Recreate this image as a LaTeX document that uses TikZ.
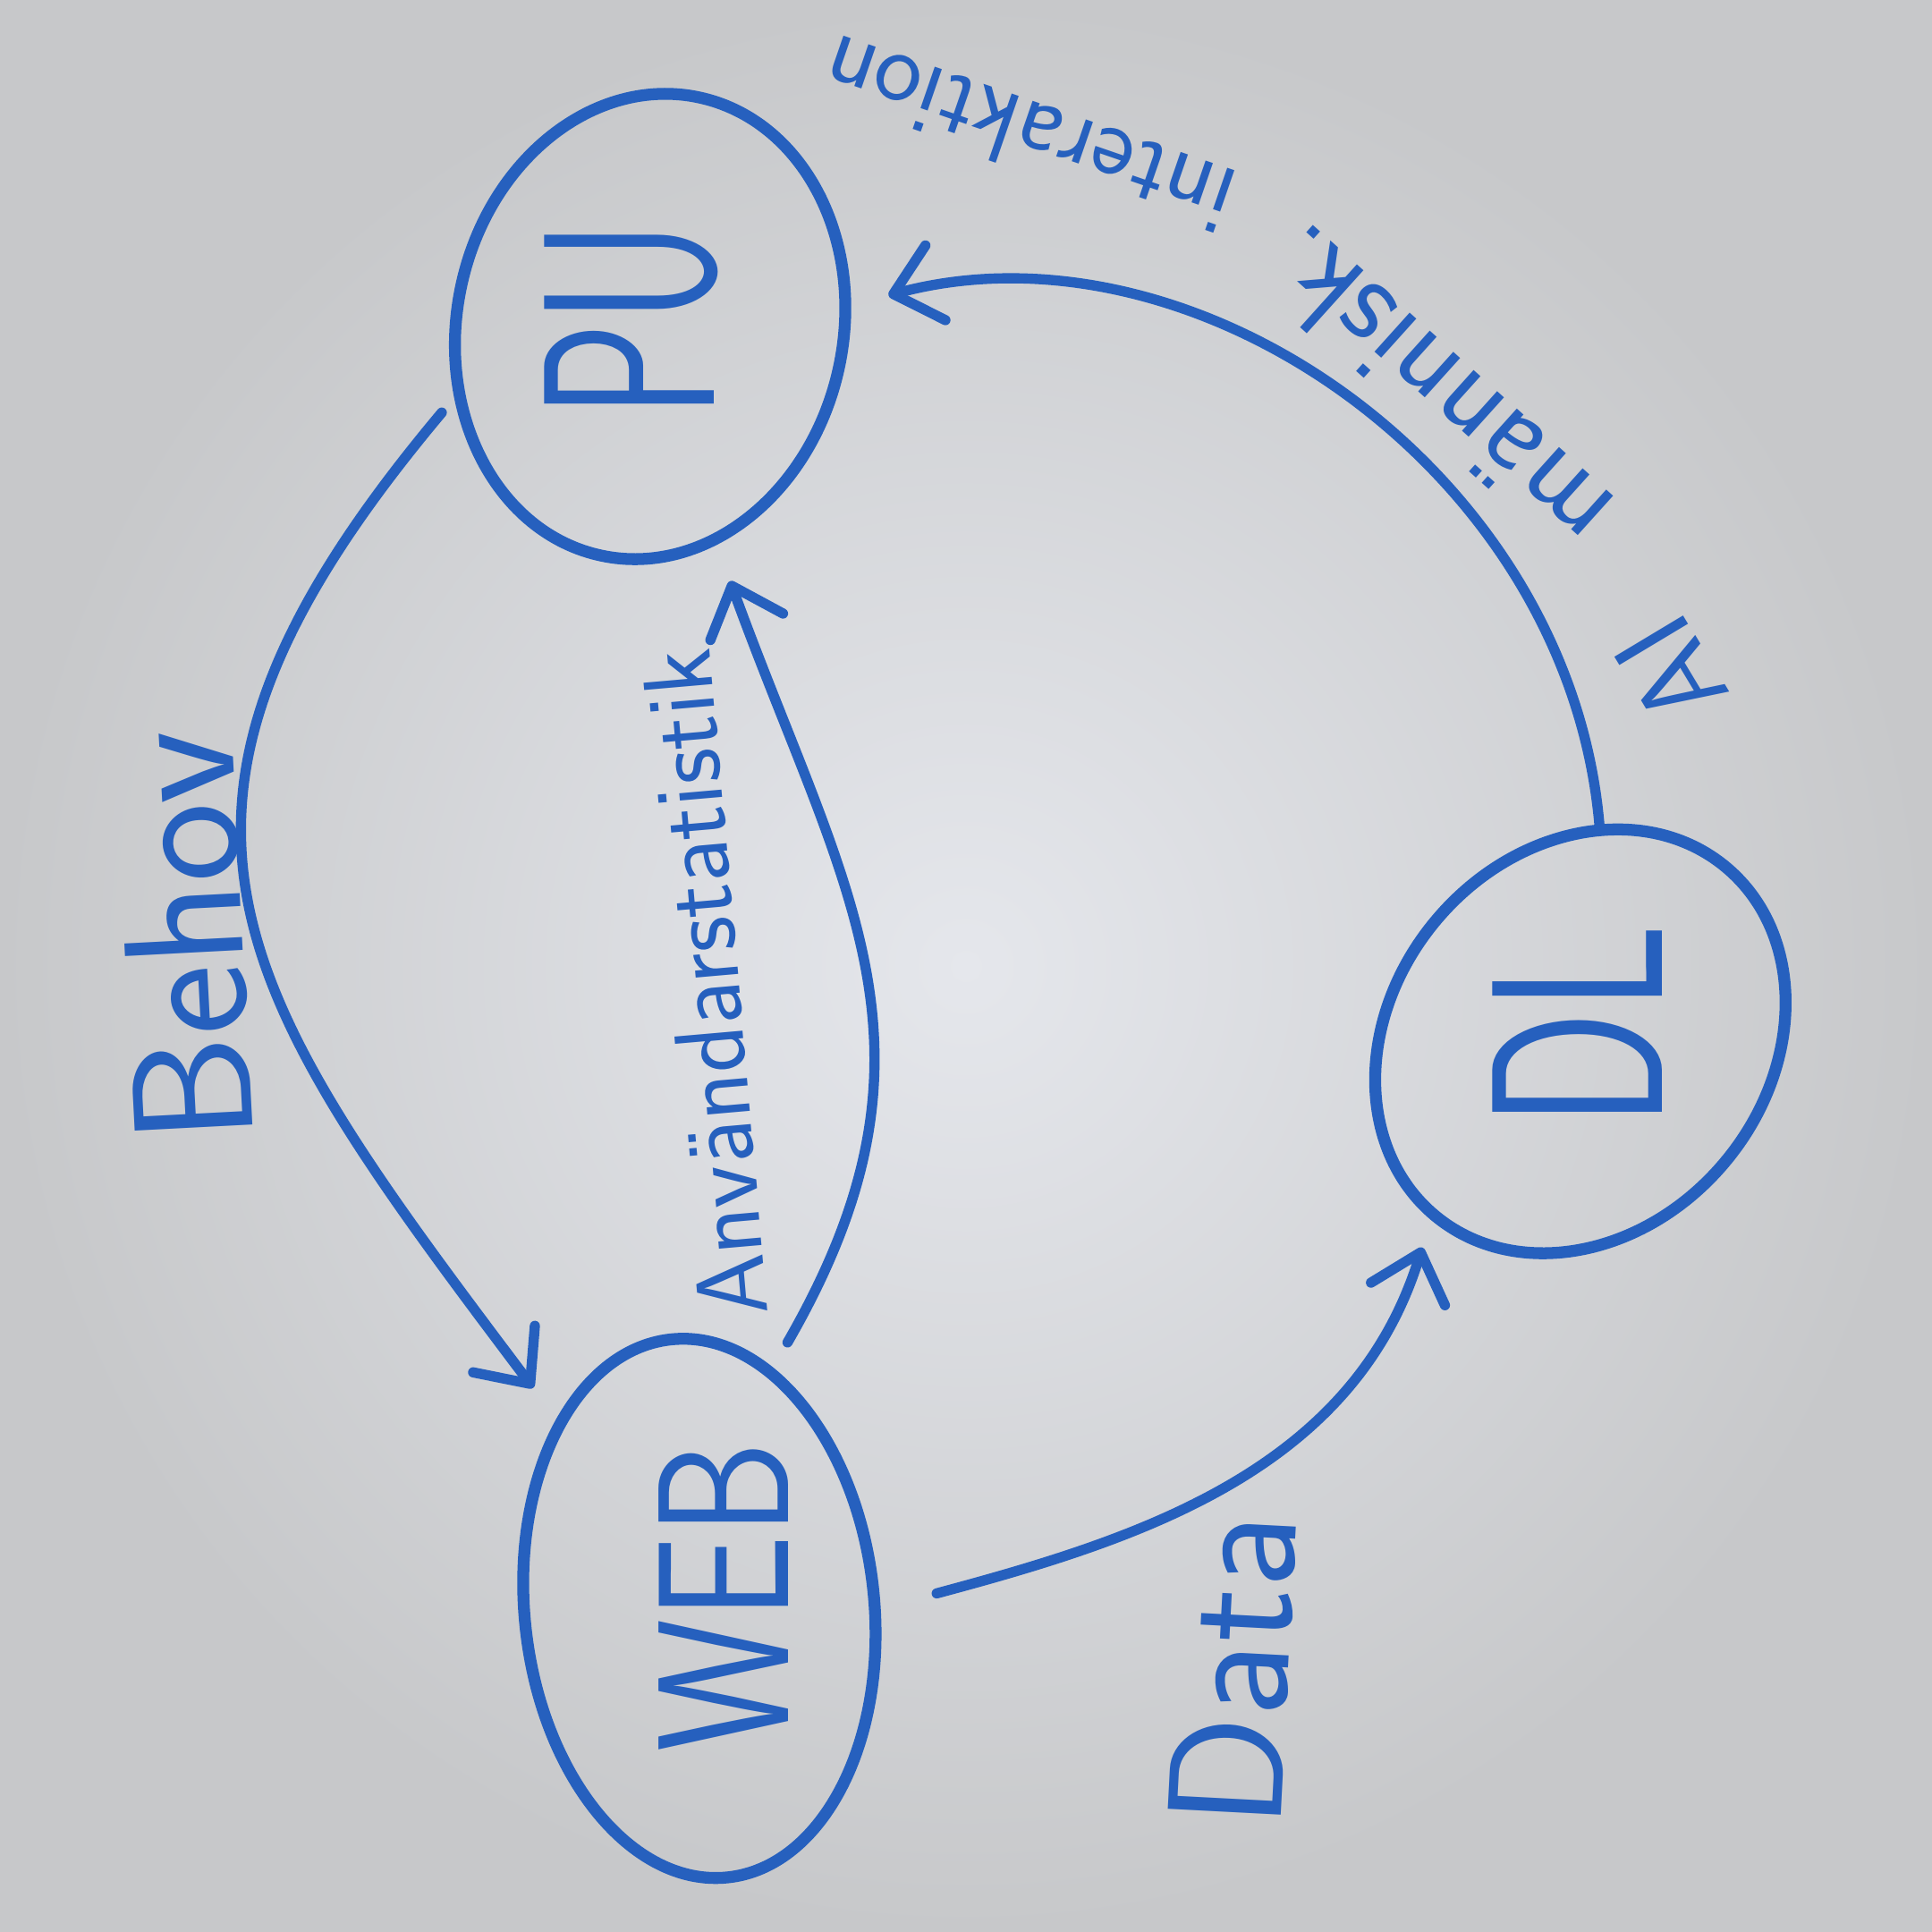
\documentclass[tikz,border=0pt]{standalone}
\usepackage{tikz}
\usetikzlibrary{arrows.meta}
\usetikzlibrary{shapes.geometric}
\definecolor{marker}{RGB}{38,96,190}
\definecolor{boardlight}{RGB}{229,231,236}
\definecolor{boarddark}{RGB}{199,200,202}
\tikzset{blob/.style = {shape=ellipse, draw=marker, line width=3.5pt, inner sep=0pt}}
\tikzset{tag/.style = {text=marker, inner sep=0pt, font=\sffamily\fontsize{72}{72}\selectfont}}
\tikzset{note/.style = {text=marker, inner sep=0pt, font=\sffamily\fontsize{50}{50}\selectfont}}
\tikzset{flow/.style = {draw=marker, line width=3pt, line cap=round,
    -{Straight Barb[length=4.5mm,width=8mm,line cap=round,line join=round]}}}

\begin{document}
\begin{tikzpicture}
                \useasboundingbox (0,0) rectangle (20,20);
                \shade[inner color=boardlight, outer color=boarddark] (0,0) rectangle (20,20);

                \node[blob, rotate=-12, minimum width=4cm, minimum height=4.85cm] (PU) at (6.73,16.62) {};
                \node[blob, rotate=6, minimum width=3.62cm, minimum height=5.6cm] (WEB) at (7.24,3.35) {};
                \node[blob, rotate=50, minimum width=4.7cm, minimum height=3.9cm] (DL) at (16.36,9.22) {};

                \node[tag, rotate=90] (PU-t) at (6.54,16.69) {\scalebox{0.65}[1]{PU}};
                \node[tag, rotate=90, font=\sffamily\fontsize{55}{55}\selectfont] (WEB-t) at (7.49,3.47) {\scalebox{0.8}[1]{WEB}};
                \node[tag, rotate=90] (DL-t) at (16.33,9.38) {\scalebox{0.7}[1]{DL}};

                \draw[flow, shorten <=2mm, shorten >=4mm] (PU.212) to[out=230, in=127, looseness=1.35] (WEB.121);
                \draw[flow, shorten <=3mm, shorten >=4mm] (WEB.67) to[out=60, in=-70, looseness=1.15] (PU.299);
                \draw[flow, shorten <=6mm, shorten >=3mm] (WEB.-6) to[out=15, in=253] (DL.west);
                \draw[flow, shorten >=4mm] (DL.35) to[out=95, in=15] (PU.18);

                \node[note, rotate=93] (behov) at (1.91,10.30) {Behov};
                \node[note, rotate=95, font=\sffamily\fontsize{29}{29}\selectfont] (stats) at (7.3,9.82) {Användarstatistik};
                \node[note, rotate=87, font=\sffamily\fontsize{48}{48}\selectfont] (data) at (12.76,2.71) {Data};

                \node[note, rotate=121, font=\sffamily\fontsize{34}{34}\selectfont] (ai) at (17.29,13.05) {AI};
                \node[note, rotate=138, font=\sffamily\fontsize{36}{36}\selectfont] (human) at (14.85,15.95) {människ.};
                \node[note, rotate=161, font=\sffamily\fontsize{30}{30}\selectfont] (inter) at (10.64,18.59) {interaktion};
\end{tikzpicture}
\end{document}
